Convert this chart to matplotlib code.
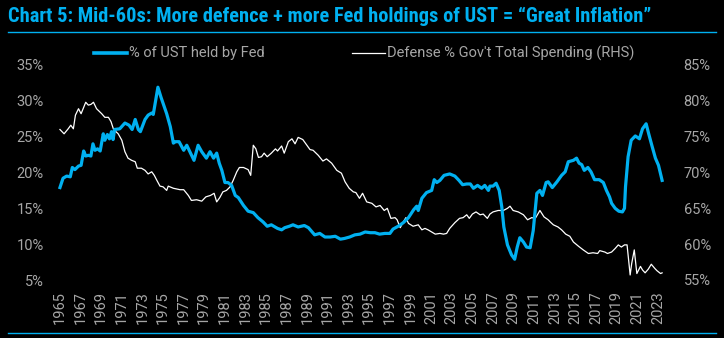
import matplotlib
matplotlib.use("Agg")
import matplotlib.pyplot as plt
from matplotlib import font_manager
from matplotlib.lines import Line2D

# % of UST held by the Fed (left axis)
fed_years = [1965.0, 1965.3, 1965.65, 1966.0, 1966.2, 1966.45, 1966.8, 1967.05, 1967.3, 1967.5,
             1967.75, 1968.0, 1968.2, 1968.4, 1968.65, 1968.9, 1969.2, 1969.35, 1969.6, 1969.8,
             1970.0, 1970.15, 1970.3, 1970.8, 1971.3, 1971.7, 1972.0, 1972.3, 1972.6, 1972.8,
             1973.25, 1973.55, 1973.9, 1974.05, 1974.5, 1974.8, 1975.35, 1975.7, 1976.0, 1976.2,
             1976.55, 1977.0, 1977.3, 1977.6, 1978.0, 1978.4, 1978.75, 1979.2, 1979.55, 1979.9,
             1980.2, 1980.45, 1980.7, 1981.0, 1981.3, 1981.65, 1982.0, 1982.3, 1982.8, 1983.25,
             1983.75, 1984.2, 1984.7, 1985.1, 1985.5, 1986.1, 1986.5, 1986.8, 1987.25, 1987.6,
             1988.1, 1988.7, 1989.1, 1989.7, 1990.2, 1990.7, 1991.2, 1991.7, 1992.2, 1992.6,
             1993.1, 1993.6, 1994.1, 1994.6, 1995.1, 1995.55, 1996.0, 1996.5, 1997.0, 1997.3,
             1997.8, 1998.3, 1998.8, 1999.3, 1999.6, 1999.75, 2000.1, 2000.55, 2001.05, 2001.3,
             2001.55, 2001.85, 2002.25, 2002.8, 2003.3, 2003.7, 2004.05, 2004.45, 2004.8, 2005.1,
             2005.5, 2005.9, 2006.2, 2006.55, 2006.7, 2007.0, 2007.3, 2007.6, 2007.85, 2008.05,
             2008.4, 2008.8, 2009.1, 2009.35, 2009.6, 2009.95, 2010.25, 2010.6, 2010.9, 2011.25,
             2011.55, 2011.8, 2012.15, 2012.35, 2012.75, 2013.2, 2013.65, 2014.0, 2014.3, 2014.8,
             2015.1, 2015.35, 2015.6, 2015.85, 2016.2, 2016.5, 2016.85, 2017.3, 2017.7, 2018.0,
             2018.3, 2018.5, 2018.85, 2019.2, 2019.55, 2019.75, 2019.85, 2020.1, 2020.4, 2020.8,
             2021.2, 2021.5, 2021.85, 2022.1, 2022.4, 2022.75, 2023.05, 2023.4]
fed_share = [17.9, 19.2, 19.5, 19.4, 20.7, 20.4, 20.9, 21.0, 23.0, 22.3,
             22.4, 22.3, 24.0, 23.1, 23.3, 23.0, 25.4, 24.5, 25.3, 24.7,
             25.7, 24.6, 26.0, 26.1, 26.9, 26.6, 26.0, 27.4, 26.0, 25.7,
             27.4, 28.0, 28.3, 28.1, 31.9, 30.5, 28.2, 26.4, 24.1, 24.3,
             24.3, 23.1, 23.8, 22.9, 21.7, 23.8, 22.9, 22.0, 22.9, 22.0,
             22.7, 21.3, 20.3, 18.6, 18.6, 18.2, 16.8, 16.5, 15.4, 14.6,
             14.4, 13.7, 13.1, 12.5, 12.7, 12.2, 12.0, 12.3, 12.5, 12.7,
             12.4, 12.6, 12.3, 11.3, 11.5, 11.0, 11.0, 11.1, 10.7, 10.8,
             11.0, 11.3, 11.4, 11.7, 11.6, 11.6, 11.4, 11.5, 11.5, 12.1,
             12.5, 13.0, 13.7, 14.8, 15.3, 14.7, 16.4, 17.2, 17.5, 19.0,
             18.6, 18.9, 19.6, 19.8, 19.5, 18.9, 18.3, 18.4, 18.4, 17.8,
             18.2, 17.8, 18.2, 17.5, 18.1, 18.1, 18.5, 17.5, 15.2, 12.4,
             9.9, 8.5, 7.9, 9.6, 10.9, 10.3, 9.6, 9.5, 11.9, 17.1,
             17.5, 16.8, 18.6, 18.7, 17.9, 18.7, 19.6, 20.1, 21.5, 21.7,
             22.0, 21.3, 21.1, 20.3, 20.7, 20.1, 19.0, 19.0, 18.6, 17.5,
             16.6, 15.7, 15.0, 14.6, 14.5, 15.0, 18.0, 22.2, 24.5, 25.1,
             24.7, 26.1, 26.8, 25.4, 23.8, 22.0, 21.0, 18.9]

# Defense as % of government total spending (right axis)
def_years = [1965.0, 1965.4, 1965.8, 1966.05, 1966.3, 1966.5, 1966.8, 1967.05, 1967.5, 1967.75,
             1968.0, 1968.25, 1968.55, 1969.05, 1969.35, 1969.7, 1969.95, 1970.2, 1970.65, 1971.0,
             1971.3, 1971.6, 1971.95, 1972.3, 1972.5, 1972.9, 1973.25, 1973.55, 1973.9, 1974.15,
             1974.4, 1974.7, 1975.0, 1975.35, 1975.5, 1976.0, 1976.65, 1977.0, 1977.45, 1977.75,
             1978.25, 1978.75, 1979.15, 1979.6, 1979.95, 1980.2, 1980.5, 1980.8, 1981.15, 1981.5,
             1981.8, 1982.15, 1982.4, 1982.8, 1983.25, 1983.5, 1983.75, 1984.0, 1984.25, 1984.55,
             1984.8, 1985.1, 1985.5, 1985.9, 1986.1, 1986.5, 1986.75, 1987.15, 1987.5, 1987.8,
             1988.1, 1988.55, 1988.95, 1989.25, 1989.55, 1990.05, 1990.5, 1990.85, 1991.35, 1991.85,
             1992.3, 1992.65, 1993.05, 1993.45, 1993.7, 1994.05, 1994.35, 1994.75, 1995.25, 1995.65,
             1996.05, 1996.45, 1996.75, 1997.1, 1997.5, 1997.7, 1998.0, 1998.3, 1998.55, 1998.8,
             1999.25, 1999.75, 2000.1, 2000.4, 2000.7, 2001.05, 2001.4, 2001.85, 2002.2, 2002.5,
             2002.8, 2003.3, 2003.75, 2004.1, 2004.45, 2004.7, 2005.0, 2005.35, 2005.75, 2006.05,
             2006.45, 2006.7, 2007.0, 2007.5, 2008.0, 2008.4, 2008.65, 2008.95, 2009.45, 2009.95,
             2010.35, 2010.75, 2011.1, 2011.55, 2011.95, 2012.35, 2012.55, 2012.85, 2013.3, 2013.65,
             2014.05, 2014.45, 2014.8, 2015.3, 2015.75, 2016.25, 2016.7, 2017.15, 2017.35, 2017.85,
             2018.1, 2018.5, 2018.85, 2019.15, 2019.45, 2019.75, 2020.0, 2020.3, 2020.45, 2020.7,
             2020.95, 2021.3, 2021.5, 2021.75, 2022.05, 2022.35, 2022.7, 2022.9, 2023.25, 2023.4]
def_share = [76.0, 75.4, 76.1, 76.6, 76.1, 78.0, 78.9, 78.2, 79.8, 79.4,
             79.5, 79.8, 78.9, 78.2, 77.7, 77.7, 77.1, 76.0, 75.4, 74.5,
             72.9, 72.0, 71.7, 71.5, 70.6, 70.6, 70.3, 69.8, 70.1, 69.6,
             68.9, 68.1, 68.0, 67.5, 68.1, 67.8, 67.6, 67.6, 66.8, 66.1,
             66.2, 66.0, 66.6, 66.8, 67.1, 65.9, 66.5, 67.3, 67.5, 68.0,
             68.9, 70.1, 70.7, 70.7, 70.4, 69.6, 73.8, 73.3, 72.1, 72.2,
             72.7, 72.2, 72.7, 73.3, 73.0, 73.7, 72.7, 74.3, 74.7, 74.0,
             74.9, 74.6, 73.8, 73.2, 73.1, 72.4, 71.6, 71.9, 71.3, 70.3,
             69.9, 68.7, 67.8, 67.3, 67.2, 66.4, 67.1, 65.9, 65.7, 65.2,
             65.4, 64.7, 65.0, 63.6, 63.7, 63.4, 62.3, 63.1, 63.7, 62.9,
             62.5, 62.7, 62.0, 62.2, 62.0, 61.7, 61.4, 61.5, 61.4, 61.5,
             62.2, 63.0, 63.6, 63.7, 64.1, 63.6, 64.2, 64.5, 64.1, 64.2,
             63.6, 64.2, 64.5, 64.7, 64.7, 65.0, 65.3, 64.7, 64.5, 64.1,
             63.4, 63.7, 63.6, 64.7, 63.8, 63.4, 63.1, 62.7, 62.4, 62.0,
             61.4, 61.1, 60.3, 59.7, 59.2, 58.7, 58.8, 58.7, 59.1, 58.9,
             58.7, 58.9, 59.4, 59.9, 59.6, 59.9, 59.9, 55.7, 57.3, 59.2,
             55.9, 56.9, 56.4, 56.0, 56.5, 57.2, 56.6, 56.3, 55.9, 56.0]

year_ticks = list(range(1965, 2024, 2))
left_ticks = [5, 10, 15, 20, 25, 30, 35]
right_ticks = [55, 60, 65, 70, 75, 80, 85]

title = "Chart 5: Mid-60s: More defence + more Fed holdings of UST = \u201cGreat Inflation\u201d"
fed_label = "% of UST held by Fed"
def_label = "Defense % Gov't Total Spending (RHS)"

BLUE = "#00b0f0"
GREY = "#a6a6a6"

available = {f.name for f in font_manager.fontManager.ttflist}
def pick(*names):
    for n in names:
        if n in available:
            return n
    return "DejaVu Sans"

body_font = pick("Roboto", "Liberation Sans", "DejaVu Sans")
title_font = pick("Roboto Condensed", "Liberation Sans Narrow", "Roboto")
plt.rcParams["font.family"] = body_font

W, H = 724, 338
fig = plt.figure(figsize=(W / 100, H / 100), dpi=100, facecolor="black")

# plot area in pixels: x 54.8..668.3, y 65..280 (from top)
ax = fig.add_axes([54.8 / W, 58 / H, 613.5 / W, 215 / H], facecolor="black")
ax2 = ax.twinx()

ax.plot(fed_years, fed_share, color=BLUE, lw=2.3, solid_joinstyle="round", zorder=3)
ax2.plot(def_years, def_share, color="white", lw=0.9, zorder=2)
ax.set_zorder(ax2.get_zorder() + 1)
ax.patch.set_visible(False)
ax2.patch.set_facecolor("black")

ax.set_xlim(1964.5, 2024.0)
ax.set_ylim(5, 35)
ax2.set_ylim(55, 85)

ax.set_xticks(year_ticks)
ax.set_xticklabels([str(y) for y in year_ticks], rotation=90)
ax.set_yticks(left_ticks)
ax.set_yticklabels([f"{v}%" for v in left_ticks])
ax2.set_yticks(right_ticks)
ax2.set_yticklabels([f"{v}%" for v in right_ticks])

for a in (ax, ax2):
    for s in a.spines.values():
        s.set_visible(False)
ax.tick_params(axis="x", length=0, pad=8, labelsize=10.5, labelcolor=GREY)
ax.tick_params(axis="y", length=0, pad=8, labelsize=10.5, labelcolor=GREY)
ax2.tick_params(axis="y", length=0, pad=11, labelsize=10.5, labelcolor=GREY)

# title and rules
fig.text(8 / W, 1 - 16 / H, title, color=BLUE, fontsize=14.7, fontweight="bold",
         family=title_font, va="center", ha="left")
fig.add_artist(Line2D([8 / W, 716 / W], [1 - 32 / H] * 2, color=BLUE, lw=1.0))
fig.add_artist(Line2D([8 / W, 716 / W], [1 - 333 / H] * 2, color=BLUE, lw=1.0))

# legend
ly = 1 - 53 / H
fig.add_artist(Line2D([94 / W, 127 / W], [ly, ly], color=BLUE, lw=2.6))
fig.text(129 / W, ly, fed_label, color=GREY, fontsize=10.5, va="center", ha="left")
fig.add_artist(Line2D([352 / W, 385 / W], [ly, ly], color="white", lw=0.9))
fig.text(387 / W, ly, def_label, color=GREY, fontsize=10.5, va="center", ha="left")

fig.savefig("out.png", dpi=100, facecolor="black")
